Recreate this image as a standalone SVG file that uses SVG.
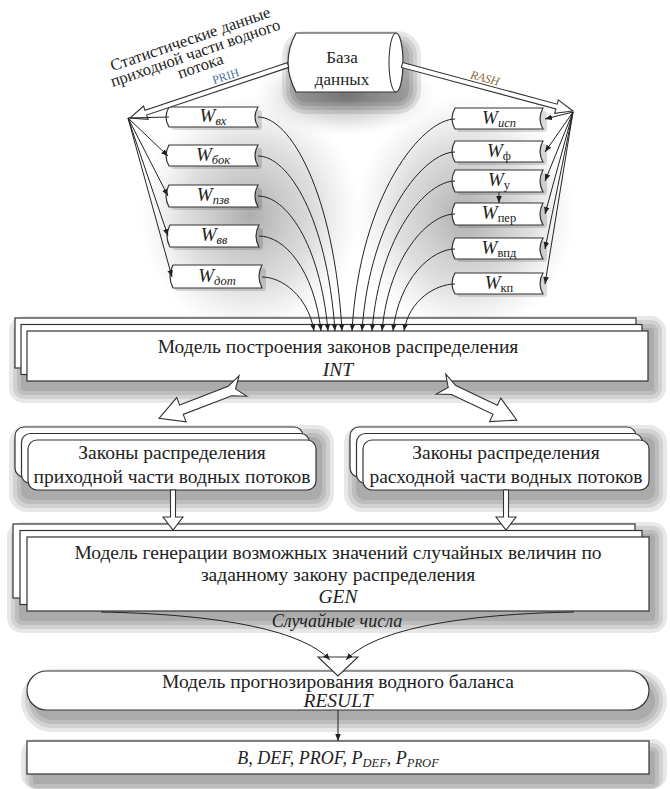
<svg xmlns="http://www.w3.org/2000/svg" width="670" height="789" viewBox="0 0 670 789">
<defs>
<style>
.bx{fill:#fff;stroke:#333;stroke-width:1.2}
.t{font-family:"Liberation Serif","Times New Roman","DejaVu Serif",serif;fill:#222;font-size:19.5px;text-anchor:middle}
.i{font-style:italic}
.w{font-family:"Liberation Serif","Times New Roman","DejaVu Serif",serif;font-style:italic;font-size:19px;fill:#222;text-anchor:middle}
.s{font-size:12.5px}
.ln{fill:none;stroke:#222;stroke-width:1}
.ha{fill:#fff;stroke:#333;stroke-width:1.1}
.sd{fill:#000;fill-opacity:0.095}
.sw{fill:#000;fill-opacity:0.14}
</style>
<marker id="ar" viewBox="0 0 10 10" refX="10" refY="5" markerWidth="7" markerHeight="7" markerUnits="userSpaceOnUse" orient="auto">
<path d="M0,1 L10,5 L0,9 z" fill="#222"/>
</marker>
<radialGradient id="rg">
<stop offset="0" stop-color="#777" stop-opacity="0.6"/>
<stop offset="0.6" stop-color="#999" stop-opacity="0.32"/>
<stop offset="1" stop-color="#bbb" stop-opacity="0"/>
</radialGradient>
</defs>
<rect width="670" height="789" fill="#fff"/>

<!-- background shading -->
<g id="shade">
<ellipse cx="250" cy="215" rx="110" ry="120" fill="url(#rg)"/>
<ellipse cx="465" cy="215" rx="110" ry="120" fill="url(#rg)"/>
<ellipse cx="345" cy="95" rx="90" ry="40" fill="url(#rg)"/>
</g>

<!-- shadows -->
<g id="shadows">
<rect class="sd" x="294" y="43" width="115" height="59" rx="12"/>
<rect class="sd" x="290" y="39" width="123" height="67" rx="16"/>
<rect class="sd" x="286" y="35" width="131" height="75" rx="20"/>
<rect class="sd" x="282" y="31" width="139" height="83" rx="24"/>

<rect class="sd" x="21" y="328" width="633" height="63" rx="3"/>
<rect class="sd" x="17" y="324" width="641" height="71" rx="7"/>
<rect class="sd" x="13" y="320" width="649" height="79" rx="11"/>
<rect class="sd" x="9" y="316" width="657" height="87" rx="15"/>

<rect class="sd" x="21" y="437" width="301" height="63" rx="9"/>
<rect class="sd" x="17" y="433" width="309" height="71" rx="12"/>
<rect class="sd" x="13" y="429" width="317" height="79" rx="15"/>
<rect class="sd" x="9" y="425" width="325" height="87" rx="18"/>

<rect class="sd" x="356" y="437" width="299" height="63" rx="9"/>
<rect class="sd" x="352" y="433" width="307" height="71" rx="12"/>
<rect class="sd" x="348" y="429" width="315" height="79" rx="15"/>
<rect class="sd" x="344" y="425" width="323" height="87" rx="18"/>

<rect class="sd" x="19" y="534" width="636" height="87" rx="3"/>
<rect class="sd" x="15" y="530" width="644" height="95" rx="7"/>
<rect class="sd" x="11" y="526" width="652" height="103" rx="11"/>
<rect class="sd" x="7" y="522" width="660" height="111" rx="15"/>

<rect class="sd" x="33" y="681" width="622" height="39" rx="19.5"/>
<rect class="sd" x="29" y="677" width="630" height="47" rx="23"/>
<rect class="sd" x="25" y="673" width="638" height="55" rx="27"/>
<rect class="sd" x="21" y="669" width="646" height="63" rx="31"/>

<rect class="sd" x="33" y="751" width="622" height="33" rx="3"/>
<rect class="sd" x="29" y="747" width="630" height="41" rx="7"/>
<rect class="sd" x="25" y="743" width="638" height="46" rx="11"/>
<rect class="sd" x="21" y="739" width="646" height="50" rx="15"/>

<rect class="sw" x="171" y="110" width="91" height="20" rx="3"/>
<rect class="sw" x="171" y="148" width="91" height="21" rx="3"/>
<rect class="sw" x="171" y="188" width="91" height="22" rx="3"/>
<rect class="sw" x="172" y="228" width="91" height="22" rx="3"/>
<rect class="sw" x="175" y="268" width="91" height="23" rx="3"/>
<rect class="sw" x="457" y="111" width="90" height="21" rx="3"/>
<rect class="sw" x="457" y="144" width="90" height="21" rx="3"/>
<rect class="sw" x="457" y="173" width="90" height="22" rx="3"/>
<rect class="sw" x="457" y="206" width="90" height="22" rx="3"/>
<rect class="sw" x="457" y="241" width="90" height="21" rx="3"/>
<rect class="sw" x="457" y="276" width="90" height="21" rx="3"/>
</g>

<!-- caption -->
<g id="caption">
<text x="192" y="44" transform="rotate(-19 192 44)" class="t" style="font-size:16.5px">Статистические данные</text>
<text x="197" y="58" transform="rotate(-19 197 58)" class="t" style="font-size:16.5px">приходной части водного</text>
<text x="202" y="71" transform="rotate(-19 202 71)" class="t" style="font-size:16.5px">потока</text>
</g>

<!-- database -->
<g id="db">
<path class="bx" d="M296,33 L396,33 A7,29.5 0 0 1 396,92 L296,92 Q280,62.5 296,33 Z"/>
<path class="ln" stroke="#333" d="M396,33 A7,29.5 0 0 0 396,92"/>
<text class="t" x="342" y="63" style="font-size:17px">База</text>
<text class="t" x="342" y="85" style="font-size:17px">данных</text>
</g>

<!-- left W boxes -->
<g id="w_vh">
<path class="bx" d="M169,107 L258,107 Q252,117 258,127 L169,127 Q163,117 169,107 Z"/>
<text class="w" x="213" y="122">W<tspan class="s" dy="3">вх</tspan></text>
</g>
<g id="w_bok">
<path class="bx" d="M169,145 L258,145 Q252,155.5 258,166 L169,166 Q163,155.5 169,145 Z"/>
<text class="w" x="213" y="161">W<tspan class="s" dy="3">бок</tspan></text>
</g>
<g id="w_pzv">
<path class="bx" d="M169,185 L258,185 Q252,196 258,207 L169,207 Q163,196 169,185 Z"/>
<text class="w" x="213" y="201">W<tspan class="s" dy="3">пзв</tspan></text>
</g>
<g id="w_vv">
<path class="bx" d="M170,225 L259,225 Q253,236 259,247 L170,247 Q164,236 170,225 Z"/>
<text class="w" x="214" y="241">W<tspan class="s" dy="3">вв</tspan></text>
</g>
<g id="w_dot">
<path class="bx" d="M173,265 L262,265 Q256,276.5 262,288 L173,288 Q167,276.5 173,265 Z"/>
<text class="w" x="217" y="282">W<tspan class="s" dy="3">дот</tspan></text>
</g>

<!-- right W boxes -->
<g id="w_isp">
<path class="bx" d="M455,108 L543,108 Q537,118.5 543,129 L455,129 Q449,118.5 455,108 Z"/>
<text class="w" x="499" y="124">W<tspan class="s" dy="3">исп</tspan></text>
</g>
<g id="w_f">
<path class="bx" d="M455,141 L543,141 Q537,151.5 543,162 L455,162 Q449,151.5 455,141 Z"/>
<text class="w" x="499" y="157">W<tspan class="s" dy="3" font-style="normal">ф</tspan></text>
</g>
<g id="w_u">
<path class="bx" d="M455,170 L543,170 Q537,181 543,192 L455,192 Q449,181 455,170 Z"/>
<text class="w" x="499" y="186">W<tspan class="s" dy="3" font-style="normal">у</tspan></text>
</g>
<g id="w_per">
<path class="bx" d="M455,203 L543,203 Q537,214 543,225 L455,225 Q449,214 455,203 Z"/>
<text class="w" x="499" y="219">W<tspan class="s" dy="3" font-style="normal">пер</tspan></text>
</g>
<g id="w_vpd">
<path class="bx" d="M455,238 L543,238 Q537,248.5 543,259 L455,259 Q449,248.5 455,238 Z"/>
<text class="w" x="499" y="254">W<tspan class="s" dy="3" font-style="normal">впд</tspan></text>
</g>
<g id="w_kp">
<path class="bx" d="M455,273 L543,273 Q537,283.5 543,294 L455,294 Q449,283.5 455,273 Z"/>
<text class="w" x="499" y="289">W<tspan class="s" dy="3" font-style="normal">кп</tspan></text>
</g>

<!-- INT -->
<g id="int">
<rect class="bx" x="15" y="318" width="621" height="50"/>
<rect class="bx" x="21" y="324.5" width="621" height="50"/>
<rect class="bx" x="27" y="331" width="621" height="50"/>
<text class="t" x="338" y="353">Модель построения законов распределения</text>
<text class="t i" x="338" y="376">INT</text>
</g>

<!-- laws left -->
<g id="laws_in">
<rect class="bx" x="15" y="427" width="288" height="50" rx="9"/>
<rect class="bx" x="21.5" y="433.5" width="288" height="50" rx="9"/>
<rect class="bx" x="28" y="440" width="288" height="50" rx="9"/>
<text class="t" x="172" y="459">Законы распределения</text>
<text class="t" x="172" y="483">приходной части водных потоков</text>
</g>

<!-- laws right -->
<g id="laws_out">
<rect class="bx" x="350" y="427" width="286" height="50" rx="9"/>
<rect class="bx" x="356.5" y="433.5" width="286" height="50" rx="9"/>
<rect class="bx" x="363" y="440" width="286" height="50" rx="9"/>
<text class="t" x="506" y="459">Законы распределения</text>
<text class="t" x="506" y="483">расходной части водных потоков</text>
</g>

<!-- GEN -->
<g id="gen">
<rect class="bx" x="13" y="524" width="622" height="74"/>
<rect class="bx" x="20" y="530.5" width="622" height="74"/>
<rect class="bx" x="27" y="537" width="622" height="74"/>
<text class="t" x="338" y="559">Модель генерации возможных значений случайных величин по</text>
<text class="t" x="338" y="581">заданному закону распределения</text>
<text class="t i" x="338" y="603">GEN</text>
</g>

<!-- RESULT -->
<g id="result">
<rect class="bx" x="27" y="671" width="622" height="39" rx="19.5"/>
<text class="t" x="338" y="688">Модель прогнозирования водного баланса</text>
<text class="t i" x="338" y="707">RESULT</text>
</g>

<!-- output -->
<g id="output">
<rect class="bx" x="27" y="741" width="622" height="33"/>
<text class="t i" x="338" y="764" style="font-size:18px">B, DEF, PROF, P<tspan class="s" dy="3">DEF</tspan><tspan dy="-3">, P</tspan><tspan class="s" dy="3">PROF</tspan></text>
</g>

<!-- connectors -->
<g id="connectors">
<polygon class="ha" transform="translate(288,65) rotate(161.45)" points="0,-2.5 150,-2.5 150,-7 166.7,0 150,7 150,2.5 0,2.5"/>
<polygon class="ha" transform="translate(402,65) rotate(15.06)" points="0,-2.5 160,-2.5 160,-7 177,0 160,7 160,2.5 0,2.5"/>
<text x="227" y="80" transform="rotate(-18.5 227 80)" font-family="Liberation Serif,serif" font-size="12" fill="#4a6c9c" text-anchor="middle">PRIH</text>
<text x="484" y="82" transform="rotate(15 484 82)" font-family="Liberation Serif,serif" font-size="12" font-style="italic" fill="#8a6a3a" text-anchor="middle">RASH</text>

<line class="ln" x1="128" y1="118" x2="169" y2="117"/>
<line class="ln" x1="128" y1="118" x2="168" y2="156" marker-end="url(#ar)"/>
<line class="ln" x1="128" y1="118" x2="168" y2="196" marker-end="url(#ar)"/>
<line class="ln" x1="128" y1="118" x2="168" y2="236" marker-end="url(#ar)"/>
<line class="ln" x1="128" y1="118" x2="172" y2="277" marker-end="url(#ar)"/>

<line class="ln" x1="573" y1="112" x2="545" y2="119" marker-end="url(#ar)"/>
<line class="ln" x1="573" y1="112" x2="545" y2="152" marker-end="url(#ar)"/>
<line class="ln" x1="573" y1="112" x2="545" y2="181" marker-end="url(#ar)"/>
<line class="ln" x1="573" y1="112" x2="545" y2="214" marker-end="url(#ar)"/>
<line class="ln" x1="573" y1="112" x2="545" y2="249" marker-end="url(#ar)"/>
<line class="ln" x1="573" y1="112" x2="545" y2="284" marker-end="url(#ar)"/>

<line class="ln" x1="499" y1="192" x2="499" y2="203" marker-end="url(#ar)"/>

<path class="ln" d="M258,117 C290,117 334,192 342,331" marker-end="url(#ar)"/>
<path class="ln" d="M258,156 C288,156 327,217 335,331" marker-end="url(#ar)"/>
<path class="ln" d="M258,196 C286,196 320,243 328,331" marker-end="url(#ar)"/>
<path class="ln" d="M259,236 C284,236 314,269 321,331" marker-end="url(#ar)"/>
<path class="ln" d="M262,277 C282,277 308,296 314,331" marker-end="url(#ar)"/>
<path class="ln" d="M455,119 C423,119 360,193 352,331" marker-end="url(#ar)"/>
<path class="ln" d="M455,152 C425,152 370,215 362,331" marker-end="url(#ar)"/>
<path class="ln" d="M455,181 C427,181 380,233 372,331" marker-end="url(#ar)"/>
<path class="ln" d="M455,214 C429,214 389,255 382,331" marker-end="url(#ar)"/>
<path class="ln" d="M455,249 C432,249 399,278 393,331" marker-end="url(#ar)"/>
<path class="ln" d="M455,284 C436,284 409,300 404,331" marker-end="url(#ar)"/>

<polygon class="ha" transform="translate(243,386) rotate(158.9)" points="0,-11 14,-5 66,-5 66,-13 90,0 66,13 66,5 14,5 0,11 8,0"/>
<polygon class="ha" transform="translate(441,384) rotate(25.5)" points="0,-11 14,-5 60,-5 60,-13 84,0 60,13 60,5 14,5 0,11 8,0"/>

<polygon class="ha" points="170.5,490 175.5,490 175.5,517 183,517 173,530 163,517 170.5,517"/>
<polygon class="ha" points="503.5,490 508.5,490 508.5,517 516,517 506,530 496,517 503.5,517"/>

<polygon class="ha" points="318,657 358,657 338,676"/>
<path class="ln" d="M101,612 C210,614 300,628 330,660" marker-end="url(#ar)"/>
<path class="ln" d="M574,612 C466,614 376,628 346,660" marker-end="url(#ar)"/>
<text class="t i" x="337" y="627" style="font-size:18px">Случайные числа</text>

<line class="ln" x1="338" y1="710" x2="338" y2="741" marker-end="url(#ar)"/>
</g>
</svg>
